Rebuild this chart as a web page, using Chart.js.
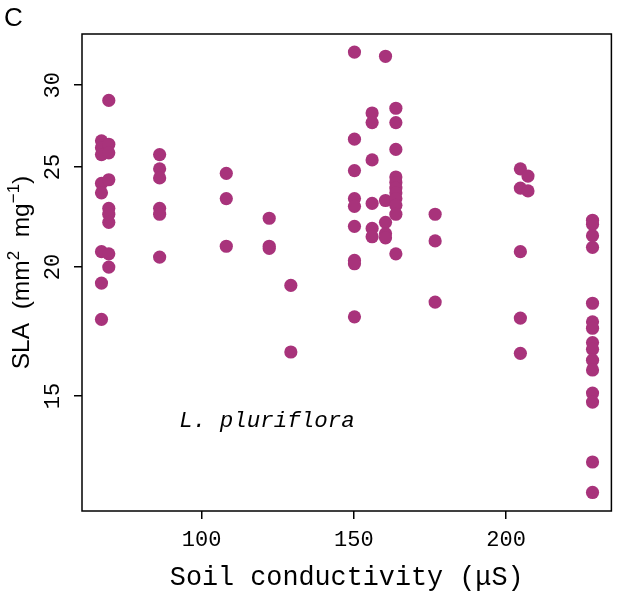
<!DOCTYPE html>
<html>
<head>
<meta charset="utf-8">
<script src="https://cdn.jsdelivr.net/npm/chart.js@4.4.1/dist/chart.umd.min.js"></script>
<style>
  html, body { margin: 0; padding: 0; background: #fff; overflow: hidden; }
  canvas { display: block; }
</style>
</head>
<body>
<canvas id="slaChart" width="618" height="596"></canvas>
<script>
// Soil conductivity (µS) of each sampling site, and the SLA values measured there
const siteConductivity = [67.1, 69.5, 86.2, 108.1, 122.2, 129.3, 150.2, 156.0, 160.4, 163.8, 176.7, 204.7, 207.2, 228.4];
const siteSLA = [
  [26.5, 26.1, 25.7, 24.1, 23.6, 20.7, 19.3, 17.8],
  [29.0, 26.3, 25.8, 24.3, 22.8, 22.5, 22.1, 20.6, 20.0],
  [25.7, 24.9, 24.4, 22.8, 22.5, 20.45],
  [24.65, 23.3, 20.95],
  [22.3, 20.95, 20.85],
  [19.2, 16.55],
  [32.3, 26.6, 24.8, 23.3, 22.9, 21.9, 20.3, 20.15, 17.9],
  [28.2, 27.6, 25.4, 23.05, 21.8, 21.4],
  [32.0, 23.2, 22.1, 21.55, 21.35],
  [28.5, 27.6, 26.0, 24.45, 24.15, 23.85, 23.6, 23.3, 22.95, 22.5, 20.6],
  [22.5, 21.2, 18.5],
  [24.9, 23.85, 20.7, 17.85, 16.5],
  [24.5, 23.7],
  [22.2, 22.0, 21.45, 20.9, 18.45, 17.7, 17.45, 16.9, 16.65, 16.25, 15.9, 15.1, 14.8, 12.95, 12.1]
];
const xTicks = [100, 150, 200];
const yTicks = [15, 20, 25, 30];
const xRange = [60.7, 234.6];
const yRange = [11.61, 33.63];
const speciesLabel = { text: 'L. pluriflora', x: 121.5, y: 14.2 };

const points = siteConductivity.flatMap((x, i) => siteSLA[i].map(y => ({ x, y })));

const MONO = '"Liberation Mono", "DejaVu Sans Mono", monospace';
const SANS = '"Liberation Sans", Arial, sans-serif';
const DOT = '#a8337b';

// frame, panel letter, y title with superscripts, species label
const decorations = {
  id: 'decorations',
  afterDatasetsDraw(chart){
    const { ctx, chartArea: a, scales } = chart;
    ctx.save();
    ctx.strokeStyle = '#000'; ctx.lineWidth = 1.5;
    ctx.strokeRect(a.left, a.top, a.right - a.left, a.bottom - a.top);

    ctx.fillStyle = '#000';
    ctx.textBaseline = 'alphabetic'; ctx.textAlign = 'left';
    ctx.font = '26px ' + SANS;
    ctx.fillText('C', 4, 26);

    // species name, placed in data coordinates
    ctx.font = 'italic 22.5px ' + MONO;
    ctx.textAlign = 'center'; ctx.textBaseline = 'middle';
    ctx.fillText(speciesLabel.text, scales.x.getPixelForValue(speciesLabel.x), scales.y.getPixelForValue(speciesLabel.y));

    // y axis title: SLA (mm^2 mg^-1)
    const parts = [
      { t: 'SLA  (mm', size: 24.5, rise: 0 },
      { t: '2', size: 17, rise: 10 },
      { t: '  mg', size: 24.5, rise: 0 },
      { t: '\u22121', size: 17, rise: 10 },
      { t: ')', size: 24.5, rise: 0 }
    ];
    let total = 0;
    parts.forEach(p => { ctx.font = p.size + 'px ' + SANS; p.w = ctx.measureText(p.t).width; total += p.w; });
    ctx.translate(29, (a.top + a.bottom) / 2);
    ctx.rotate(-Math.PI / 2);
    ctx.textAlign = 'left'; ctx.textBaseline = 'alphabetic';
    let px = -total / 2;
    parts.forEach(p => { ctx.font = p.size + 'px ' + SANS; ctx.fillText(p.t, px, -p.rise); px += p.w; });
    ctx.restore();
  }
};

new Chart(document.getElementById('slaChart'), {
  type: 'scatter',
  data: {
    datasets: [{
      data: points,
      pointRadius: 6.6,
      pointHoverRadius: 6.6,
      pointBackgroundColor: DOT,
      pointBorderColor: DOT,
      pointBorderWidth: 0
    }]
  },
  options: {
    responsive: false,
    animation: false,
    devicePixelRatio: 1,
    layout: { padding: { top: 34, right: 5, left: 0, bottom: 0 } },
    plugins: { legend: { display: false }, tooltip: { enabled: false } },
    scales: {
      x: {
        type: 'linear', min: xRange[0], max: xRange[1],
        afterBuildTicks: s => { s.ticks = xTicks.map(v => ({ value: v })); },
        afterFit: s => { s.height = 85; },
        grid: { drawOnChartArea: false, drawTicks: true, tickLength: 8, color: '#000', lineWidth: 1.5 },
        border: { display: false },
        ticks: { color: '#000', font: { family: MONO, size: 22 }, padding: 8, maxRotation: 0, callback: v => String(v) },
        title: { display: true, text: 'Soil conductivity (\u03bcS)', color: '#000', font: { family: MONO, size: 26.8 }, padding: { top: 0, bottom: 2 } }
      },
      y: {
        type: 'logarithmic', min: yRange[0], max: yRange[1],
        afterBuildTicks: s => { s.ticks = yTicks.map(v => ({ value: v })); },
        afterFit: s => { s.width = 82; },
        grid: { drawOnChartArea: false, drawTicks: true, tickLength: 8, color: '#000', lineWidth: 1.5 },
        border: { display: false },
        ticks: { color: '#000', font: { family: MONO, size: 22 }, padding: 8, minRotation: 90, maxRotation: 90, crossAlign: 'center', callback: v => String(v) }
      }
    }
  },
  plugins: [decorations]
});
</script>
</body>
</html>
